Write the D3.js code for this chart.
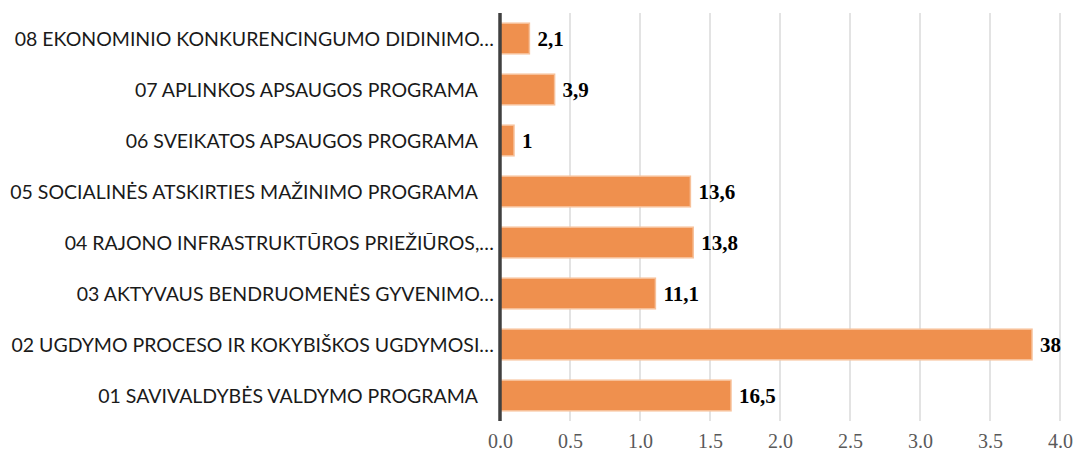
<!DOCTYPE html>
<html>
<head>
<meta charset="utf-8">
<script src="https://cdn.jsdelivr.net/npm/d3@7"></script>
<style>
  html, body { margin: 0; padding: 0; background: #fff; }
  svg { display: block; }
</style>
</head>
<body>
<div id="chart"></div>
<script>
// programme names, top to bottom (the truncated ones keep Excel's ellipsis)
const programs = [
  "08 EKONOMINIO KONKURENCINGUMO DIDINIMO…",
  "07 APLINKOS APSAUGOS PROGRAMA",
  "06 SVEIKATOS APSAUGOS PROGRAMA",
  "05 SOCIALINĖS ATSKIRTIES MAŽINIMO PROGRAMA",
  "04 RAJONO INFRASTRUKTŪROS PRIEŽIŪROS,…",
  "03 AKTYVAUS BENDRUOMENĖS GYVENIMO…",
  "02 UGDYMO PROCESO IR KOKYBIŠKOS UGDYMOSI…",
  "01 SAVIVALDYBĖS VALDYMO PROGRAMA"
];
const truncated = [true, false, false, false, true, true, true, false];

// shares in percent, as printed next to the bars
const values = [2.1, 3.9, 1, 13.6, 13.8, 11.1, 38, 16.5];

// the axis of the original runs 0.0 - 4.0 (percent / 10)
const tickValues = [0, 0.5, 1, 1.5, 2, 2.5, 3, 3.5, 4];

const width = 1076;
const height = 454;

const svg = d3.select("#chart")
  .append("svg")
  .attr("width", width)
  .attr("height", height);

const xScale = d3.scaleLinear()
  .domain([0, 4])
  .range([500, 1060]);

const yScale = d3.scaleBand()
  .domain(programs)
  .range([13, 421])
  .paddingInner(0.4)
  .paddingOuter(0.2);

// vertical gridlines
svg.append("g")
  .selectAll("line")
  .data(tickValues.slice(1))
  .enter()
  .append("line")
  .attr("x1", d => xScale(d))
  .attr("x2", d => xScale(d))
  .attr("y1", 13)
  .attr("y2", 421)
  .attr("stroke", "#e3e3e3")
  .attr("stroke-width", 2);

// x axis tick labels
const xAxis = svg.append("g")
  .attr("transform", "translate(0,448)")
  .call(d3.axisBottom(xScale).tickValues(tickValues).tickFormat(d3.format(".1f")).tickSize(0).tickPadding(0));
xAxis.select(".domain").remove();
xAxis.selectAll("text")
  .attr("dy", 0)
  .attr("font-family", "'Liberation Serif', 'Times New Roman', serif")
  .attr("font-size", 20)
  .attr("fill", "#595959");

// bars
svg.append("g")
  .selectAll("rect")
  .data(values)
  .enter()
  .append("rect")
  .attr("x", xScale(0))
  .attr("y", (d, i) => yScale(programs[i]))
  .attr("width", d => xScale(d / 10) - xScale(0))
  .attr("height", yScale.bandwidth())
  .attr("fill", "#ef904e")
  .attr("stroke", "#f7c19a")
  .attr("stroke-width", 1.5);

// value labels
svg.append("g")
  .selectAll("text")
  .data(values)
  .enter()
  .append("text")
  .attr("x", d => xScale(d / 10) + 8)
  .attr("y", (d, i) => yScale(programs[i]) + yScale.bandwidth() / 2 + 7)
  .attr("font-family", "'Liberation Serif', 'Times New Roman', serif")
  .attr("font-weight", "bold")
  .attr("font-size", 21)
  .attr("fill", "#000")
  .text(d => String(d).replace(".", ","));

// category labels
svg.append("g")
  .selectAll("text")
  .data(programs)
  .enter()
  .append("text")
  .attr("x", (d, i) => truncated[i] ? 494 : 478)
  .attr("y", d => yScale(d) + yScale.bandwidth() / 2 + 7)
  .attr("text-anchor", "end")
  .attr("font-family", "Lato, 'Open Sans', sans-serif")
  .attr("font-size", 19.5)
  .attr("fill", "#1a1a1a")
  .text(d => d);

// y axis line
svg.append("line")
  .attr("x1", xScale(0))
  .attr("x2", xScale(0))
  .attr("y1", 13)
  .attr("y2", 421)
  .attr("stroke", "#404040")
  .attr("stroke-width", 3.5);
</script>
</body>
</html>
